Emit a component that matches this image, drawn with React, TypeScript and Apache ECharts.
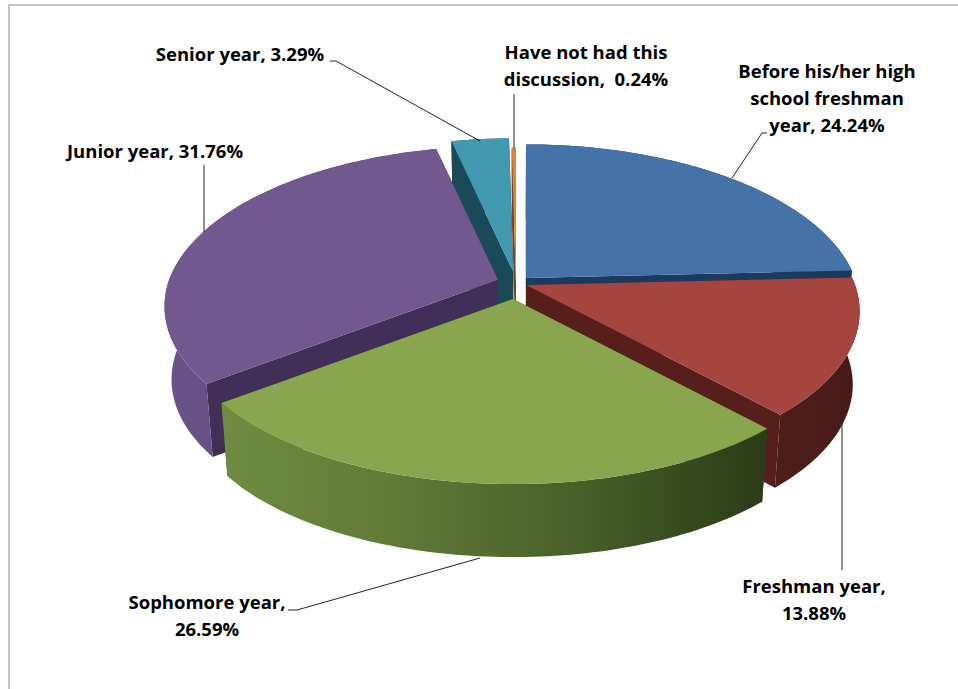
import React, { useEffect, useRef } from "react";
import * as echarts from "echarts";

const categories = [
  "Before his/her high school freshman year",
  "Freshman year",
  "Sophomore year",
  "Junior year",
  "Senior year",
  "Have not had this discussion",
];
const shares = [24.24, 13.88, 26.59, 31.76, 3.29, 0.24];
const labelLines = [
  "Before his/her high\nschool freshman\nyear, 24.24%",
  "Freshman year,\n13.88%",
  "Sophomore year,\n26.59%",
  "Junior year, 31.76%",
  "Senior year, 3.29%",
  "Have not had this\ndiscussion,  0.24%",
];
const explodeFractions = [0.044, 0.033, 0.102, 0.058, 0.0705, 0.01];
const paintOrder = [4, 5, 0, 3, 1, 2];

const topColors = ["#4572a7", "#a5453f", "#89a54e", "#71588f", "#4198af", "#db843d"];
const edgeColors = ["#1b3a5e", "#561f1c", "#3c4f1f", "#402f56", "#1a4a58", "#7a4418"];
const wallStops = [
  ["#1b3a5e", "#1b3a5e"],
  ["#4e1d1a", "#471a17"],
  ["#6f8c42", "#5e7a36", "#465e28", "#2c3b17"],
  ["#6a5487", "#59437a"],
  ["#1a4a58", "#1a4a58"],
  ["#7a4418", "#7a4418"],
];

const labelAnchors = [
  { x: 827, y: 57, align: "center" },
  { x: 814, y: 572, align: "center" },
  { x: 207, y: 588, align: "center" },
  { x: 155, y: 137, align: "center" },
  { x: 240, y: 40, align: "center" },
  { x: 586, y: 38, align: "center" },
];
const leaderPaths = [
  [[767, 133], [762, 133], [732, 178]],
  [[842, 418], [842, 570]],
  [[288, 610], [297, 610], [480, 558]],
  [[204, 165], [204, 232]],
  [[330, 61], [336, 61], [480, 141]],
  [[514, 94], [514, 148]],
];

const CX = 516;
const CY = 283;
const RX = 329;
const RY = 157;
const PERSPECTIVE_FRONT_Y = 0.152;
const PERSPECTIVE_FRONT_X = 0.165;
const PERSPECTIVE_BACK = 0.175;
const DEPTH = 73;
const FLOOR_SHRINK = 0.98;

const project = (t: number, r: number, ox: number, oy: number, lower: boolean) => {
  const u = Math.sin(t) * r;
  const v = Math.cos(t) * r;
  const denX = 1 + (v > 0 ? PERSPECTIVE_BACK : PERSPECTIVE_FRONT_X) * v;
  const denY = 1 + (v > 0 ? PERSPECTIVE_BACK : PERSPECTIVE_FRONT_Y) * v;
  const sx = (RX * u) / denX;
  const sy = (-RY * v) / denY;
  return [
    CX + (sx + ox) * (lower ? FLOOR_SHRINK : 1),
    CY + sy + oy + (lower ? DEPTH : 0),
  ];
};

const total = shares.reduce((a, b) => a + b, 0);
const sliceAngles = (i: number) => {
  let acc = 0;
  for (let k = 0; k < i; k++) acc += shares[k];
  return [(acc / total) * Math.PI * 2, ((acc + shares[i]) / total) * Math.PI * 2];
};

const renderSlice = (params: any) => {
  const i = paintOrder[params.dataIndex];
  const [a0, a1] = sliceAngles(i);
  const mid = (a0 + a1) / 2;
  const d = explodeFractions[i];
  const ox = d * RX * Math.sin(mid);
  const oy = -d * RY * Math.cos(mid);
  const n = Math.max(4, Math.ceil((a1 - a0) / 0.02));
  const rimTop: number[][] = [];
  const rimBottom: number[][] = [];
  for (let s = 0; s <= n; s++) {
    const t = a0 + ((a1 - a0) * s) / n;
    rimTop.push(project(t, 1, ox, oy, false));
    rimBottom.push(project(t, 1, ox, oy, true));
  }
  const apexTop = project(0, 0, ox, oy, false);
  const apexBottom = project(0, 0, ox, oy, true);
  const stops = wallStops[i].map((color, k, arr) => ({ offset: k / (arr.length - 1), color }));
  const first = rimTop[0];
  const last = rimTop[n];
  const firstB = rimBottom[0];
  const lastB = rimBottom[n];
  const poly = (points: number[][], fill: any) => ({
    type: "polygon",
    shape: { points },
    style: { fill, stroke: null },
    silent: true,
  });
  return {
    type: "group",
    children: [
      poly([apexTop, first, firstB, apexBottom], edgeColors[i]),
      poly([apexTop, last, lastB, apexBottom], edgeColors[i]),
      poly([...rimTop, ...rimBottom.slice().reverse()], {
        type: "linear",
        x: 0,
        y: 0,
        x2: 1,
        y2: 0,
        colorStops: stops,
      }),
      poly([apexTop, ...rimTop], topColors[i]),
    ],
  };
};

export default function App() {
  const ref = useRef<HTMLDivElement>(null);
  useEffect(() => {
    const chart = echarts.init(ref.current!, undefined, { renderer: "svg" });
    const graphic: any[] = [
      { type: "rect", shape: { x: 9, y: 5, width: 960, height: 700 }, style: { fill: "#fff", stroke: "#b4b4b4", lineWidth: 1.5 }, silent: true, z: -1 },
      ...leaderPaths.map((points) => ({
        type: "polyline",
        shape: { points },
        style: { fill: null, stroke: "#222", lineWidth: 1 },
        silent: true,
        z: 5,
      })),
      ...labelLines.map((text, i) => ({
        type: "text",
        x: labelAnchors[i].x,
        y: labelAnchors[i].y,
        style: {
          text,
          fill: "#000",
          font: 'bold 18.5px "Open Sans"',
          textAlign: labelAnchors[i].align,
          textVerticalAlign: "top",
          lineHeight: 27,
        },
        silent: true,
        z: 6,
      })),
    ];
    chart.setOption({
      animation: false,
      backgroundColor: "#fff",
      graphic,
      series: [
        {
          type: "custom",
          name: "Timing of discussion",
          coordinateSystem: "none",
          renderItem: renderSlice,
          silent: true,
          data: paintOrder.map((i) => ({ name: categories[i], value: shares[i] })),
        },
      ],
    });
    return () => chart.dispose();
  }, []);
  return <div ref={ref} style={{ position: "fixed", left: 0, top: 0, width: 958, height: 689 }} />;
}
